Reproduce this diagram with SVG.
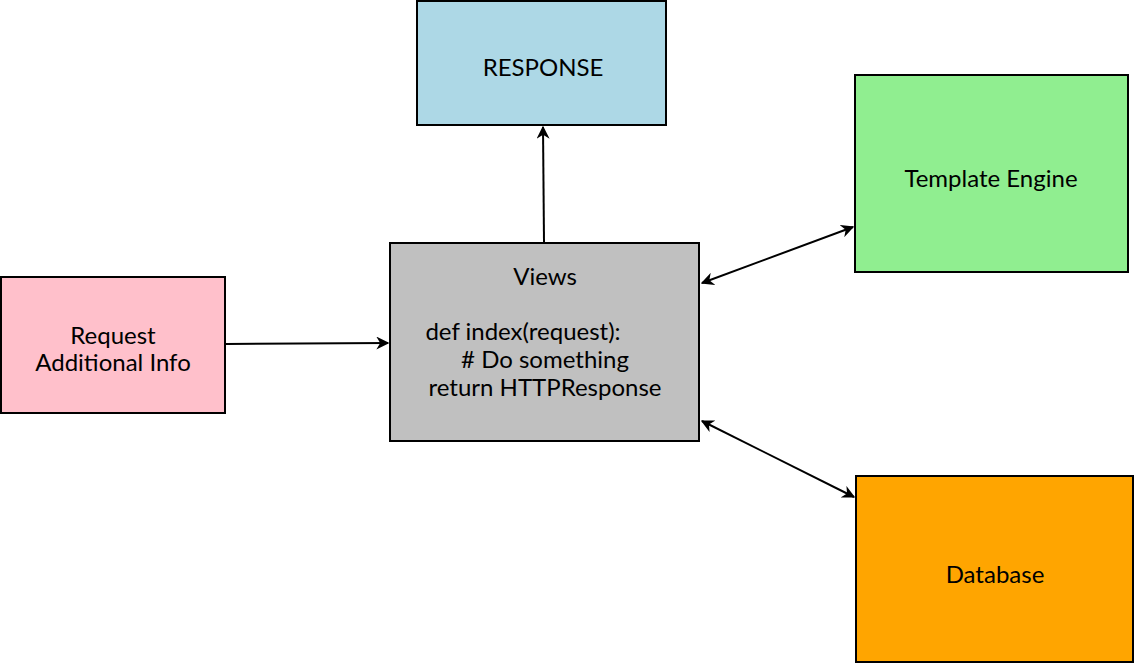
<svg xmlns="http://www.w3.org/2000/svg" width="1135" height="664" viewBox="0 0 1135 664">
<style>
.box{stroke:#000;stroke-width:2}
text{font-family:Lato,"Open Sans","Liberation Sans",sans-serif;font-size:24px;fill:#000;text-anchor:middle}
.ln{stroke:#000;stroke-width:2;fill:none}
</style>
<defs>
<marker id="ah" viewBox="0 0 10 10" refX="9" refY="5" markerWidth="13" markerHeight="13" markerUnits="userSpaceOnUse" orient="auto-start-reverse">
<path d="M0,0 L10,5 L0,10 L3,5 Z" fill="#000"/>
</marker>
</defs>
<rect width="1135" height="664" fill="#fff"/>
<g id="connectors">
<line class="ln" x1="226" y1="344" x2="388" y2="343" marker-end="url(#ah)"/>
<line class="ln" x1="544" y1="242" x2="543" y2="127" marker-end="url(#ah)"/>
<line class="ln" x1="702" y1="283" x2="853" y2="227" marker-start="url(#ah)" marker-end="url(#ah)"/>
<line class="ln" x1="702" y1="421" x2="854" y2="497" marker-start="url(#ah)" marker-end="url(#ah)"/>
</g>
<g id="response">
<rect class="box" x="417" y="1" width="249" height="124" fill="#add8e6"/>
<text x="543" y="76">RESPONSE</text>
</g>
<g id="template">
<rect class="box" x="855" y="75" width="273" height="197" fill="#90ee90"/>
<text x="991" y="187">Template Engine</text>
</g>
<g id="request">
<rect class="box" x="1" y="277" width="224" height="136" fill="#ffc0cb"/>
<text x="113" y="344">Request</text>
<text x="113" y="371">Additional Info</text>
</g>
<g id="views">
<rect class="box" x="390" y="243" width="309" height="198" fill="#c0c0c0"/>
<text x="545" y="285">Views</text>
<text x="523" y="340">def index(request):</text>
<text x="545" y="368"># Do something</text>
<text x="545" y="396">return HTTPResponse</text>
</g>
<g id="database">
<rect class="box" x="856" y="476" width="277" height="186" fill="#ffa500"/>
<text x="995" y="583">Database</text>
</g>
</svg>
